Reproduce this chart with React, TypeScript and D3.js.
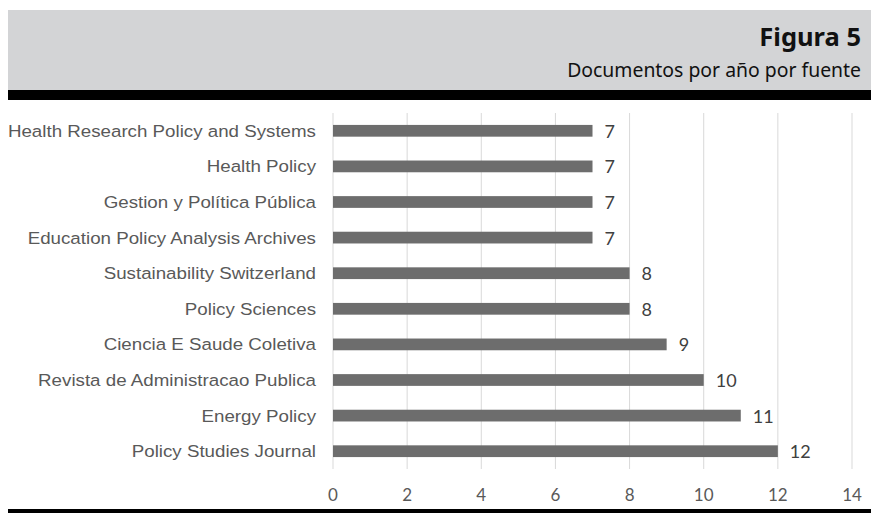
import React from "react";
import * as d3 from "d3";

const categories: string[] = [
  "Health Research Policy and Systems",
  "Health Policy",
  "Gestion y Política Pública",
  "Education Policy Analysis Archives",
  "Sustainability Switzerland",
  "Policy Sciences",
  "Ciencia E Saude Coletiva",
  "Revista de Administracao Publica",
  "Energy Policy",
  "Policy Studies Journal",
];
const values: number[] = [7, 7, 7, 7, 8, 8, 9, 10, 11, 12];
const xTicks: number[] = [0, 2, 4, 6, 8, 10, 12, 14];
const titleText = "Figura 5";
const subtitleText = "Documentos por año por fuente";

const W = 871;
const H = 513;

export default function App() {
  const x = d3.scaleLinear().domain([0, 14]).range([333, 852]);
  const y = d3.scaleBand<string>().domain(categories).range([113, 469]).paddingInner(0.67).paddingOuter(0.335);
  const labelScale = 1.15;
  return (
    <svg width={W} height={H} style={{ position: "absolute", left: 0, top: 0, background: "#fff" }}>
      <rect x={8} y={10} width={W - 8} height={80} fill="#d3d4d6" />
      <rect x={8} y={90} width={W - 8} height={10} fill="#000" />
      <rect x={8} y={509} width={W - 8} height={4} fill="#000" />
      <text x={861} y={46} textAnchor="end" fontFamily="'Noto Sans', sans-serif" fontWeight={700} fontSize={25.5} fill="#111">{titleText}</text>
      <text x={861} y={77} textAnchor="end" fontFamily="'Noto Sans', sans-serif" fontSize={19.4} fill="#111">{subtitleText}</text>
      {xTicks.map((t) => (
        <line key={"g" + t} x1={x(t)} x2={x(t)} y1={113} y2={469} stroke="#d9d9d9" strokeWidth={1} />
      ))}
      {xTicks.map((t) => (
        <text key={"t" + t} x={x(t)} y={501} textAnchor="middle" fontFamily="Lato, sans-serif" fontSize={17} fill="#595959">{t}</text>
      ))}
      {categories.map((c, i) => {
        const cy = (y(c) as number) + y.bandwidth() / 2;
        return (
          <g key={c}>
            <rect x={x(0)} y={y(c)} width={x(values[i]) - x(0)} height={y.bandwidth()} fill="#6d6d6d" />
            <text x={x(values[i]) + 12} y={cy + 7} fontFamily="Lato, sans-serif" fontSize={18} fill="#404040">{values[i]}</text>
            <text transform={`translate(316, ${cy + 6}) scale(${labelScale},1)`} textAnchor="end" fontFamily="'Liberation Sans', Arial, sans-serif" fontSize={16.3} fill="#595959">{c}</text>
          </g>
        );
      })}
    </svg>
  );
}
